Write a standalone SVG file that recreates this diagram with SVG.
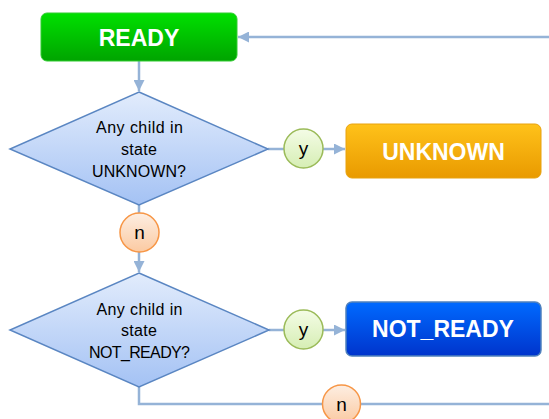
<svg xmlns="http://www.w3.org/2000/svg" width="549" height="419" viewBox="0 0 549 419">
<defs>
<linearGradient id="gGreen" x1="0" y1="0" x2="0" y2="1"><stop offset="0" stop-color="#00e000"/><stop offset="1" stop-color="#00a400"/></linearGradient>
<linearGradient id="gOrange" x1="0" y1="0" x2="0" y2="1"><stop offset="0" stop-color="#ffc21a"/><stop offset="1" stop-color="#e99a00"/></linearGradient>
<linearGradient id="gBlue" x1="0" y1="0" x2="0" y2="1"><stop offset="0" stop-color="#006aff"/><stop offset="1" stop-color="#0034cc"/></linearGradient>
<linearGradient id="gDia" x1="0" y1="0" x2="0" y2="1"><stop offset="0" stop-color="#e2ecfc"/><stop offset="1" stop-color="#a4c2f4"/></linearGradient>
<linearGradient id="gY" x1="0" y1="0" x2="0" y2="1"><stop offset="0" stop-color="#f4fce6"/><stop offset="1" stop-color="#d6eeb4"/></linearGradient>
<linearGradient id="gN" x1="0" y1="0" x2="0" y2="1"><stop offset="0" stop-color="#fdeee2"/><stop offset="1" stop-color="#fbcaa2"/></linearGradient>
<marker id="arr" viewBox="0 0 10 10" refX="10" refY="5" markerWidth="11" markerHeight="11" markerUnits="userSpaceOnUse" orient="auto"><path d="M0,0 L10,5 L0,10 z" fill="#95b3d7"/></marker>
<style>
.ln{fill:none;stroke:#95b3d7;stroke-width:2.5}
.box{font-family:"Liberation Sans",Arial,sans-serif;font-weight:bold;font-size:23px;fill:#fff;text-anchor:middle}
.dt{font-family:"Liberation Sans",Arial,sans-serif;font-size:16px;fill:#000;text-anchor:middle}
.ct{font-family:"Liberation Sans",Arial,sans-serif;font-size:19px;fill:#000;text-anchor:middle}
.dia{fill:url(#gDia);stroke:#5a86c2;stroke-width:1.5}
.cy{fill:url(#gY);stroke:#9bbb59;stroke-width:1.5}
.cn{fill:url(#gN);stroke:#f79646;stroke-width:1.5}
</style>
</defs>
<g id="connectors">
<path class="ln" d="M549,37 H238" marker-end="url(#arr)"/>
<path class="ln" d="M139,61 V91" marker-end="url(#arr)"/>
<path class="ln" d="M268,149 H284"/>
<path class="ln" d="M323,149 H345" marker-end="url(#arr)"/>
<path class="ln" d="M139,205 V213"/>
<path class="ln" d="M139,252 V272" marker-end="url(#arr)"/>
<path class="ln" d="M269,330 H284"/>
<path class="ln" d="M323,330 H345" marker-end="url(#arr)"/>
<path class="ln" d="M139,387 V404 H322"/>
<path class="ln" d="M360,404 H549"/>
</g>
<g id="ready">
<rect x="41" y="13" width="196" height="48" rx="6" fill="url(#gGreen)" stroke="#33cc33" stroke-width="1"/>
<text class="box" x="139" y="46">READY</text>
</g>
<g id="q-unknown">
<polygon class="dia" points="139,92 268,149 139,205 10,149"/>
<text class="dt" x="139.5" y="133" textLength="87" lengthAdjust="spacing">Any child in</text>
<text class="dt" x="139" y="155" textLength="36" lengthAdjust="spacing">state</text>
<text class="dt" x="139" y="177" textLength="94" lengthAdjust="spacing">UNKNOWN?</text>
</g>
<g id="y1">
<circle class="cy" cx="303.5" cy="148.5" r="19.5"/>
<text class="ct" x="303.5" y="155">y</text>
</g>
<g id="unknown">
<rect x="346" y="124" width="195" height="54" rx="6" fill="url(#gOrange)" stroke="#e8a20e" stroke-width="1"/>
<text class="box" x="443.5" y="160">UNKNOWN</text>
</g>
<g id="n1">
<circle class="cn" cx="139.5" cy="232.5" r="19.5"/>
<text class="ct" x="139.5" y="239">n</text>
</g>
<g id="q-notready">
<polygon class="dia" points="139,273 269,330 139,387 10,330"/>
<text class="dt" x="139.5" y="315" textLength="86" lengthAdjust="spacing">Any child in</text>
<text class="dt" x="139" y="336" textLength="36" lengthAdjust="spacing">state</text>
<text class="dt" x="139.5" y="358" textLength="101" lengthAdjust="spacing">NOT_READY?</text>
</g>
<g id="y2">
<circle class="cy" cx="303.5" cy="329.5" r="19.5"/>
<text class="ct" x="303.5" y="336">y</text>
</g>
<g id="notready">
<rect x="346" y="302" width="195" height="54" rx="6" fill="url(#gBlue)" stroke="#4f81bd" stroke-width="1.5"/>
<text class="box" x="443" y="337">NOT_READY</text>
</g>
<g id="n2">
<circle class="cn" cx="341.5" cy="404" r="19"/>
<text class="ct" x="341.5" y="410.5">n</text>
</g>
</svg>
